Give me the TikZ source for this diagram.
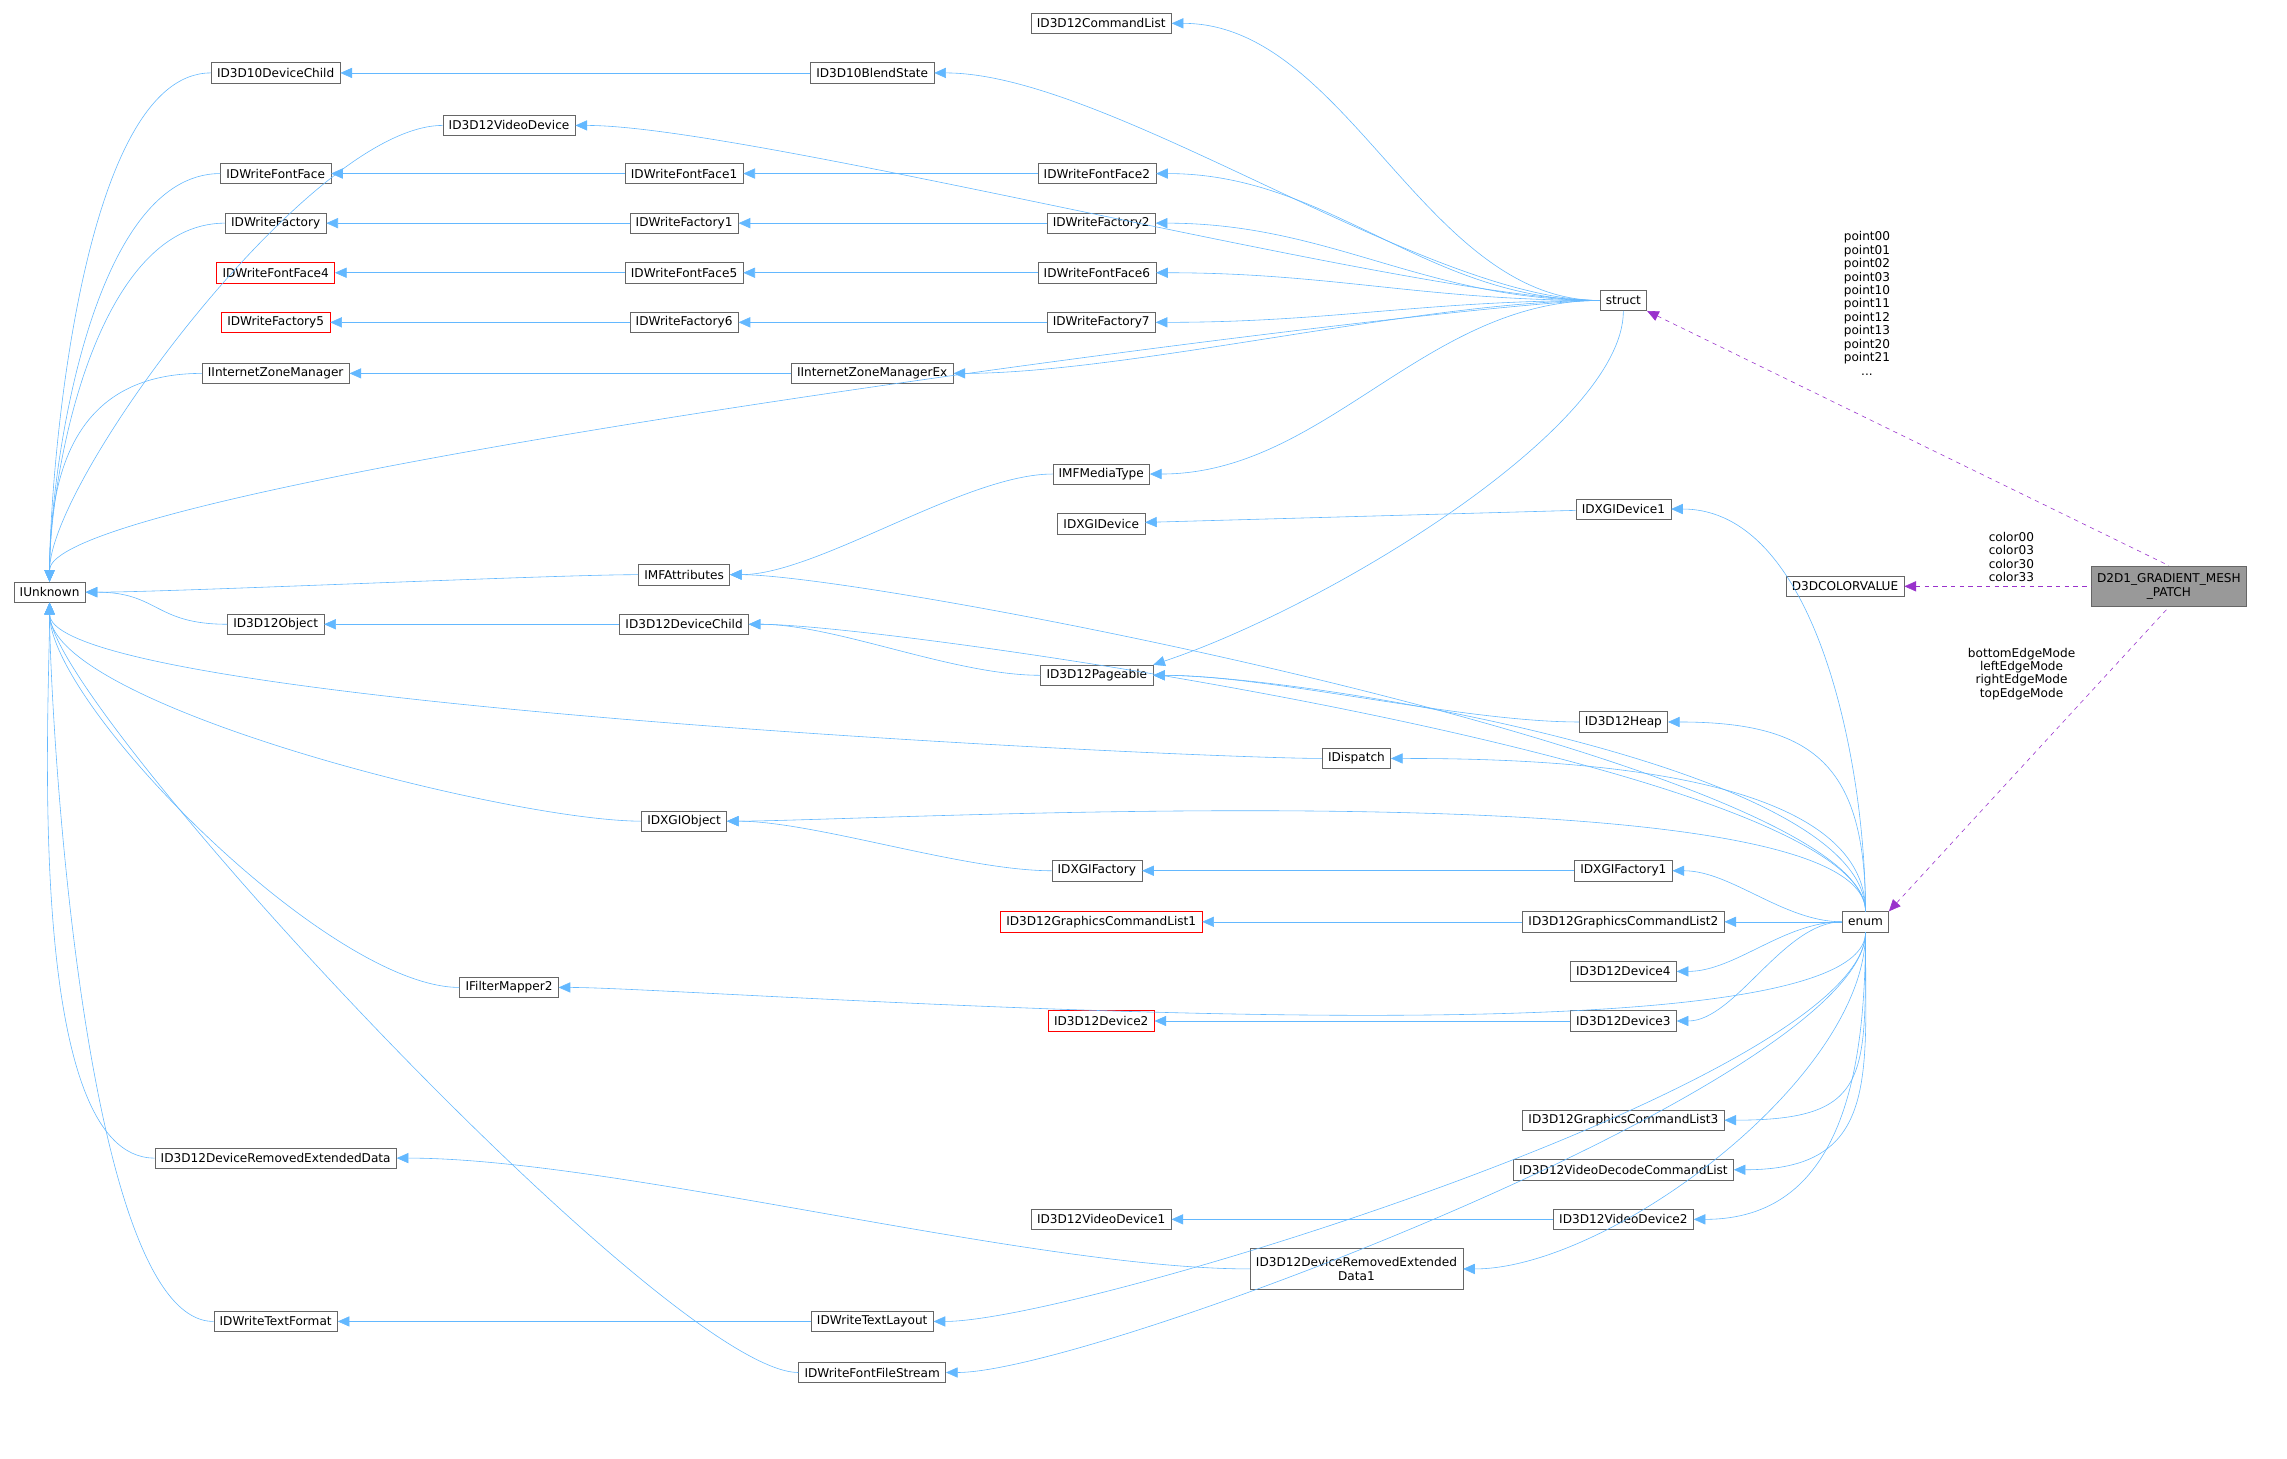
\documentclass[tikz,border=0pt]{standalone}
\usepackage{fontspec}
\setmainfont{DejaVu Sans}
\usetikzlibrary{arrows.meta}
\definecolor{inhblue}{RGB}{99,184,255}
\definecolor{usepurple}{RGB}{153,50,204}
\begin{document}
\begin{tikzpicture}[x=1pt,y=1pt,yscale=-1,
  cls/.style={draw=black!60,fill=white,inner sep=0pt,inner xsep=4pt,minimum height=14pt,font=\fontsize{8.3}{9}\selectfont},
  trunc/.style={cls,draw=red},
  inh/.style={draw=inhblue,{Triangle[length=8pt,width=7pt]}-},
  use/.style={draw=usepurple,dashed,{Triangle[length=8pt,width=7pt]}-},
  lbl/.style={align=center,font=\fontsize{8.3}{9.2}\selectfont,inner sep=0pt}]
\useasboundingbox (0,0) rectangle (1568,1000);

% Classes
\node[cls] (IUnknown) at (34,406) {IUnknown};
\node[cls] (D3D10DevChild) at (189,50) {ID3D10DeviceChild};
\node[cls] (D3D12VidDev) at (349,86) {ID3D12VideoDevice};
\node[cls] (WFontFace) at (189,119) {IDWriteFontFace};
\node[cls] (WFactory) at (189,153) {IDWriteFactory};
\node[trunc] (WFontFace4) at (189,187) {IDWriteFontFace4};
\node[trunc] (WFactory5) at (189,221) {IDWriteFactory5};
\node[cls] (IZoneMgr) at (189,256) {IInternetZoneManager};
\node[cls] (D3D12Object) at (189,428) {ID3D12Object};
\node[cls] (DRED) at (189,794) {ID3D12DeviceRemovedExtendedData};
\node[cls] (WTextFormat) at (189,906) {IDWriteTextFormat};
\node[cls] (FilterMapper) at (349,677) {IFilterMapper2};

\node[cls] (D3D12CmdList) at (755,16) {ID3D12CommandList};
\node[cls] (D3D10Blend) at (598,50) {ID3D10BlendState};
\node[cls] (WFontFace1) at (469,119) {IDWriteFontFace1};
\node[cls] (WFactory1) at (469,153) {IDWriteFactory1};
\node[cls] (WFontFace5) at (469,187) {IDWriteFontFace5};
\node[cls] (WFactory6) at (469,221) {IDWriteFactory6};
\node[cls] (IZoneMgrEx) at (598,256) {IInternetZoneManagerEx};
\node[cls] (MFAttr) at (469,394) {IMFAttributes};
\node[cls] (D3D12DevChild) at (469,428) {ID3D12DeviceChild};
\node[cls] (DXGIObject) at (469,563) {IDXGIObject};
\node[cls] (WTextLayout) at (598,906) {IDWriteTextLayout};
\node[cls] (WFileStream) at (598,941) {IDWriteFontFileStream};

\node[cls] (WFontFace2) at (752,119) {IDWriteFontFace2};
\node[cls] (WFactory2) at (755,153) {IDWriteFactory2};
\node[cls] (WFontFace6) at (752,187) {IDWriteFontFace6};
\node[cls] (WFactory7) at (755,221) {IDWriteFactory7};
\node[cls] (MFMediaType) at (755,325) {IMFMediaType};
\node[cls] (DXGIDevice) at (755,359) {IDXGIDevice};
\node[cls] (Pageable) at (752,463) {ID3D12Pageable};
\node[cls] (DXGIFactory) at (752,597) {IDXGIFactory};
\node[trunc] (GCL1) at (755,632) {ID3D12GraphicsCommandList1};
\node[trunc] (Device2) at (755,700) {ID3D12Device2};
\node[cls] (VidDev1) at (755,836) {ID3D12VideoDevice1};
\node[cls] (IDispatch) at (930,520) {IDispatch};
\node[cls,align=center,font=\fontsize{8.3}{10}\selectfont,minimum height=28pt] (DRED1) at (930,870) {ID3D12DeviceRemovedExtended\\Data1};

\node[cls] (struct) at (1113,206) {struct};
\node[cls] (DXGIDevice1) at (1113,349) {IDXGIDevice1};
\node[cls] (Heap) at (1113,495) {ID3D12Heap};
\node[cls] (DXGIFactory1) at (1113,597) {IDXGIFactory1};
\node[cls] (GCL2) at (1113,632) {ID3D12GraphicsCommandList2};
\node[cls] (Device4) at (1113,666) {ID3D12Device4};
\node[cls] (Device3) at (1113,700) {ID3D12Device3};
\node[cls] (GCL3) at (1113,768) {ID3D12GraphicsCommandList3};
\node[cls] (VidDecCL) at (1113,802) {ID3D12VideoDecodeCommandList};
\node[cls] (VidDev2) at (1113,836) {ID3D12VideoDevice2};

\node[cls] (enum) at (1279,632) {enum};
\node[cls] (ColorValue) at (1265,402) {D3DCOLORVALUE};
\node[cls,fill=black!40,align=center,font=\fontsize{8.3}{10}\selectfont,minimum height=28pt] (Patch) at (1487,402) {D2D1\_GRADIENT\_MESH\\\_PATCH};

% Derived from IUnknown
\foreach \cn in {D3D10DevChild,D3D12VidDev,WFontFace,WFactory,IZoneMgr,struct}
  \draw[inh] (IUnknown.north) .. controls +(0,-70) and +(-90,0) .. (\cn.west);
\draw[inh] (IUnknown.east) .. controls +(60,0) and +(-60,0) .. (MFAttr.west);
\draw[inh] (IUnknown.east) .. controls +(50,0) and +(-50,0) .. (D3D12Object.west);
\foreach \cn in {IDispatch,DXGIObject,FilterMapper,DRED,WTextFormat,WFileStream}
  \draw[inh] (IUnknown.south) .. controls +(0,70) and +(-90,0) .. (\cn.west);

% Chains
\draw[inh] (D3D10DevChild) -- (D3D10Blend);
\draw[inh] (WFontFace) -- (WFontFace1);
\draw[inh] (WFontFace1) -- (WFontFace2);
\draw[inh] (WFactory) -- (WFactory1);
\draw[inh] (WFactory1) -- (WFactory2);
\draw[inh] (WFontFace4) -- (WFontFace5);
\draw[inh] (WFontFace5) -- (WFontFace6);
\draw[inh] (WFactory5) -- (WFactory6);
\draw[inh] (WFactory6) -- (WFactory7);
\draw[inh] (IZoneMgr) -- (IZoneMgrEx);
\draw[inh] (D3D12Object) -- (D3D12DevChild);
\draw[inh] (DXGIDevice) -- (DXGIDevice1);
\draw[inh] (DXGIFactory) -- (DXGIFactory1);
\draw[inh] (GCL1) -- (GCL2);
\draw[inh] (Device2) -- (Device3);
\draw[inh] (VidDev1) -- (VidDev2);
\draw[inh] (WTextFormat) -- (WTextLayout);
\draw[inh] (MFAttr.east) .. controls +(60,0) and +(-60,0) .. (MFMediaType.west);
\draw[inh] (D3D12DevChild.east) .. controls +(60,0) and +(-60,0) .. (Pageable.west);
\draw[inh] (Pageable.east) .. controls +(80,0) and +(-80,0) .. (Heap.west);
\draw[inh] (DXGIObject.east) .. controls +(60,0) and +(-60,0) .. (DXGIFactory.west);
\draw[inh] (DRED.east) .. controls +(150,0) and +(-150,0) .. (DRED1.west);

% Into struct
\foreach \cn in {D3D12CmdList,D3D10Blend,D3D12VidDev,WFontFace2,WFactory2,WFontFace6,WFactory7,IZoneMgrEx,MFMediaType}
  \draw[inh] (\cn.east) .. controls +(120,0) and +(-120,0) .. (struct.west);
\draw[inh] (Pageable.north east) .. controls +(120,-40) and +(0,80) .. (struct.south);

% Into enum
\foreach \cn in {DXGIDevice1,MFAttr,D3D12DevChild,Pageable,Heap,IDispatch,DXGIObject}
  \draw[inh] (\cn.east) .. controls +(100,0) and +(0,-100) .. (enum.north);
\foreach \cn in {DXGIFactory1,GCL2,Device4,Device3}
  \draw[inh] (\cn.east) .. controls +(40,0) and +(-40,0) .. (enum.west);
\foreach \cn in {FilterMapper,GCL3,VidDecCL,VidDev2,DRED1,WTextLayout,WFileStream}
  \draw[inh] (\cn.east) .. controls +(100,0) and +(0,100) .. (enum.south);

% Members
\draw[use] (struct.south east) -- (Patch.north);
\draw[use] (ColorValue) -- (Patch);
\draw[use] (enum.north east) -- (Patch.south);
\node[lbl] (structLbl) at (1280,208) {point00\\point01\\point02\\point03\\point10\\point11\\point12\\point13\\point20\\point21\\...};
\node[lbl] (colorLbl) at (1379,382) {color00\\color03\\color30\\color33};
\node[lbl] (enumLbl) at (1386,462) {bottomEdgeMode\\leftEdgeMode\\rightEdgeMode\\topEdgeMode};
\end{tikzpicture}
\end{document}
